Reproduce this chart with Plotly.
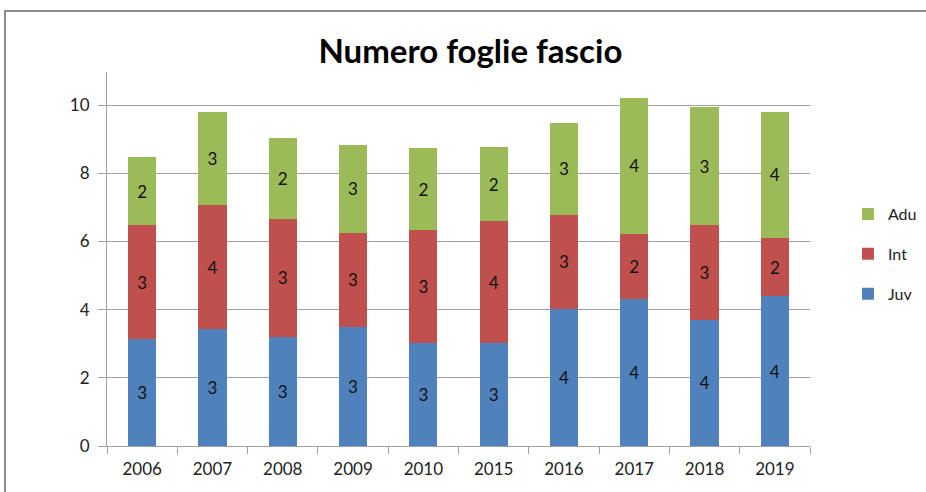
import plotly.graph_objects as go

years = ["2006", "2007", "2008", "2009", "2010", "2015", "2016", "2017", "2018", "2019"]

# stacked segment heights
juv = [3.14, 3.42, 3.21, 3.48, 3.03, 3.01, 4.01, 4.30, 3.71, 4.39]
int_ = [3.33, 3.64, 3.45, 2.78, 3.31, 3.59, 2.78, 1.93, 2.76, 1.72]
adu = [2.00, 2.73, 2.37, 2.57, 2.39, 2.16, 2.67, 3.98, 3.48, 3.68]

series = [
    ("Juv", juv, "#4F81BD", 3),
    ("Int", int_, "#C0504D", 2),
    ("Adu", adu, "#9BBB59", 1),
]

FONT = "Lato, Open Sans, sans-serif"

fig = go.Figure()
for name, vals, color, rank in series:
    fig.add_trace(
        go.Bar(
            x=years,
            y=vals,
            name=name,
            legendgroup=name,
            legendrank=rank,
            marker_color=color,
            marker_line_width=0,
            texttemplate="%{y:.0f}",
            textposition="inside",
            insidetextanchor="middle",
            textangle=0,
            constraintext="none",
            textfont=dict(color="#111111", size=17, family=FONT),
        )
    )

fig.update_layout(
    width=926,
    height=492,
    barmode="stack",
    bargap=0.6,
    plot_bgcolor="white",
    paper_bgcolor="white",
    margin=dict(l=107, r=116, t=72, b=46, autoexpand=False),
    font=dict(family=FONT, color="#222222"),
    title=dict(
        text="<b>Numero foglie fascio</b>",
        x=0.508,
        xref="container",
        xanchor="center",
        y=1 - 51 / 492,
        yref="container",
        yanchor="middle",
        font=dict(size=33, color="black", family=FONT),
    ),
    legend=dict(
        x=1.054,
        y=0.513,
        xanchor="left",
        yanchor="middle",
        traceorder="grouped",
        tracegroupgap=16,
        font=dict(size=16, color="#222222", family=FONT),
        itemwidth=30,
    ),
    shapes=[
        dict(
            type="rect",
            xref="paper",
            yref="paper",
            x0=(5 - 107) / 703,
            x1=1.3,
            y0=-0.3,
            y1=(446 - 11) / 374,
            line=dict(color="#8C8C8C", width=2),
            layer="below",
        )
    ],
)

fig.update_xaxes(
    showline=True,
    linecolor="#A0A0A0",
    linewidth=1,
    ticks="outside",
    tickson="boundaries",
    ticklen=7,
    tickcolor="#A0A0A0",
    ticklabelstandoff=8,
    tickfont=dict(size=17, color="#222222"),
    showgrid=False,
)
fig.update_yaxes(
    range=[0, 10.97],
    tickvals=[0, 2, 4, 6, 8, 10],
    showline=True,
    linecolor="#A0A0A0",
    linewidth=1,
    ticks="outside",
    ticklen=8,
    tickcolor="#A0A0A0",
    ticklabelstandoff=5,
    tickfont=dict(size=17, color="#222222"),
    showgrid=True,
    gridcolor="#A0A0A0",
    gridwidth=1,
    zeroline=False,
)

fig.write_html(
    "out.html",
    config={"displayModeBar": False},
    post_script="document.body.style.margin='0';document.body.style.overflow='hidden';",
)
